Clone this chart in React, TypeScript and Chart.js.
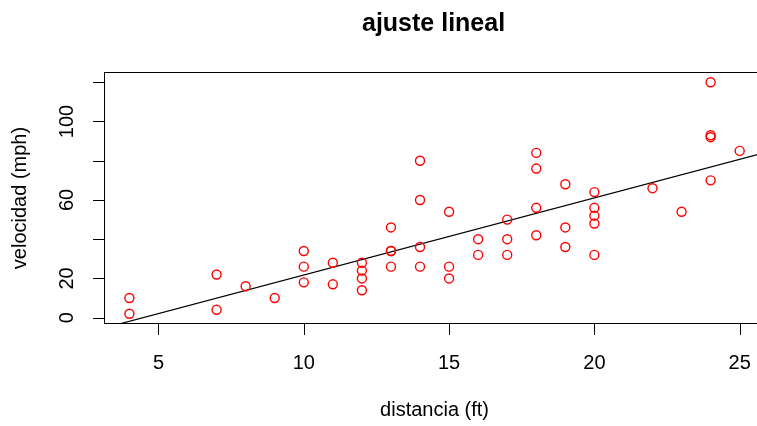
import React, { useEffect, useRef } from 'react';
import { Chart, registerables } from 'chart.js';

Chart.register(...registerables);

// cars data: x = distancia (ft) axis values, y = velocidad (mph) axis values
const distancia = [4, 4, 7, 7, 8, 9, 10, 10, 10, 11, 11, 12, 12, 12, 12, 13, 13, 13, 13, 14, 14, 14, 14, 15, 15, 15, 16, 16, 17, 17, 17, 18, 18, 18, 18, 19, 19, 19, 20, 20, 20, 20, 20, 22, 23, 24, 24, 24, 24, 25];
const velocidad = [2, 10, 4, 22, 16, 10, 18, 26, 34, 17, 28, 14, 20, 24, 28, 26, 34, 34, 46, 26, 36, 60, 80, 20, 26, 54, 32, 40, 32, 40, 50, 42, 56, 76, 84, 36, 46, 68, 32, 48, 52, 56, 64, 66, 54, 70, 92, 93, 120, 85];

const xTicks = [5, 10, 15, 20, 25];
const xTickLabels = ['5', '10', '15', '20', '25'];
const yTicks = [0, 20, 40, 60, 80, 100, 120];
const yTickLabels = ['0', '20', '', '60', '', '100', ''];

const fitIntercept = -17.5791;
const fitSlope = 3.9324;

const xRange = [3.16, 25.84];
const yRange = [-2.72, 124.72];

const titleText = 'ajuste lineal';
const xTitle = 'distancia (ft)';
const yTitle = 'velocidad (mph)';

const FONT = '"Liberation Sans", Arial, Helvetica, sans-serif';

const axesPlugin = {
  id: 'rAxes',
  afterDraw(chart: any) {
    const { ctx, chartArea, scales } = chart;
    const xs = scales.x;
    const ys = scales.y;
    const { left, right, top, bottom } = chartArea;
    ctx.save();
    ctx.strokeStyle = '#000';
    ctx.fillStyle = '#000';
    ctx.lineWidth = 1;
    // box
    ctx.strokeRect(Math.round(left) - 0.5, Math.round(top) - 0.5, Math.round(right - left), Math.round(bottom - top) + 1);
    // x ticks
    ctx.beginPath();
    xTicks.forEach((v) => {
      const px = Math.round(xs.getPixelForValue(v)) + 0.5;
      ctx.moveTo(px, bottom);
      ctx.lineTo(px, bottom + 12);
    });
    // y ticks
    yTicks.forEach((v) => {
      const py = Math.round(ys.getPixelForValue(v)) + 0.5;
      ctx.moveTo(left - 12, py);
      ctx.lineTo(left, py);
    });
    ctx.stroke();

    ctx.font = `20px ${FONT}`;
    ctx.textAlign = 'center';
    ctx.textBaseline = 'alphabetic';
    xTicks.forEach((v, i) => {
      ctx.fillText(xTickLabels[i], xs.getPixelForValue(v), 369);
    });
    yTicks.forEach((v, i) => {
      if (!yTickLabels[i]) return;
      ctx.save();
      ctx.translate(73, ys.getPixelForValue(v));
      ctx.rotate(-Math.PI / 2);
      ctx.fillText(yTickLabels[i], 0, 0);
      ctx.restore();
    });
    // axis titles
    ctx.fillText(xTitle, (left + right) / 2, 416);
    ctx.save();
    ctx.translate(26, (top + bottom) / 2);
    ctx.rotate(-Math.PI / 2);
    ctx.fillText(yTitle, 0, 0);
    ctx.restore();
    // main title
    ctx.font = `bold 25px ${FONT}`;
    ctx.fillText(titleText, (left + right) / 2 - 1, 31);
    ctx.restore();
  },
};

export default function App() {
  const ref = useRef<HTMLCanvasElement>(null);
  useEffect(() => {
    if (!ref.current) return;
    const points = distancia.map((d, i) => ({ x: d, y: velocidad[i] }));
    const fitLine = xRange.map((x) => ({ x, y: fitIntercept + fitSlope * x }));
    const chart = new Chart(ref.current, {
      type: 'scatter',
      data: {
        datasets: [
          {
            data: points,
            pointStyle: 'circle',
            pointRadius: 4.5,
            pointBorderWidth: 1.4,
            borderColor: '#ff0000',
            backgroundColor: 'rgba(0,0,0,0)',
            pointBackgroundColor: 'rgba(0,0,0,0)',
            pointBorderColor: '#ff0000',
          },
          {
            type: 'line',
            data: fitLine,
            borderColor: '#000',
            borderWidth: 1.2,
            pointRadius: 0,
            fill: false,
          } as any,
        ],
      },
      options: {
        responsive: false,
        animation: false,
        devicePixelRatio: 1,
        layout: { padding: { left: 105, right: 4, top: 73, bottom: 103 } },
        plugins: { legend: { display: false }, tooltip: { enabled: false }, title: { display: false } },
        scales: {
          x: { type: 'linear', min: xRange[0], max: xRange[1], display: false },
          y: { type: 'linear', min: yRange[0], max: yRange[1], display: false },
        },
      } as any,
      plugins: [axesPlugin],
    });
    return () => chart.destroy();
  }, []);
  return (
    <div style={{ position: 'fixed', left: 0, top: 0, width: 757, height: 426, overflow: 'hidden', background: '#fff' }}>
      <canvas ref={ref} width={770} height={426} style={{ display: 'block' }} />
    </div>
  );
}
